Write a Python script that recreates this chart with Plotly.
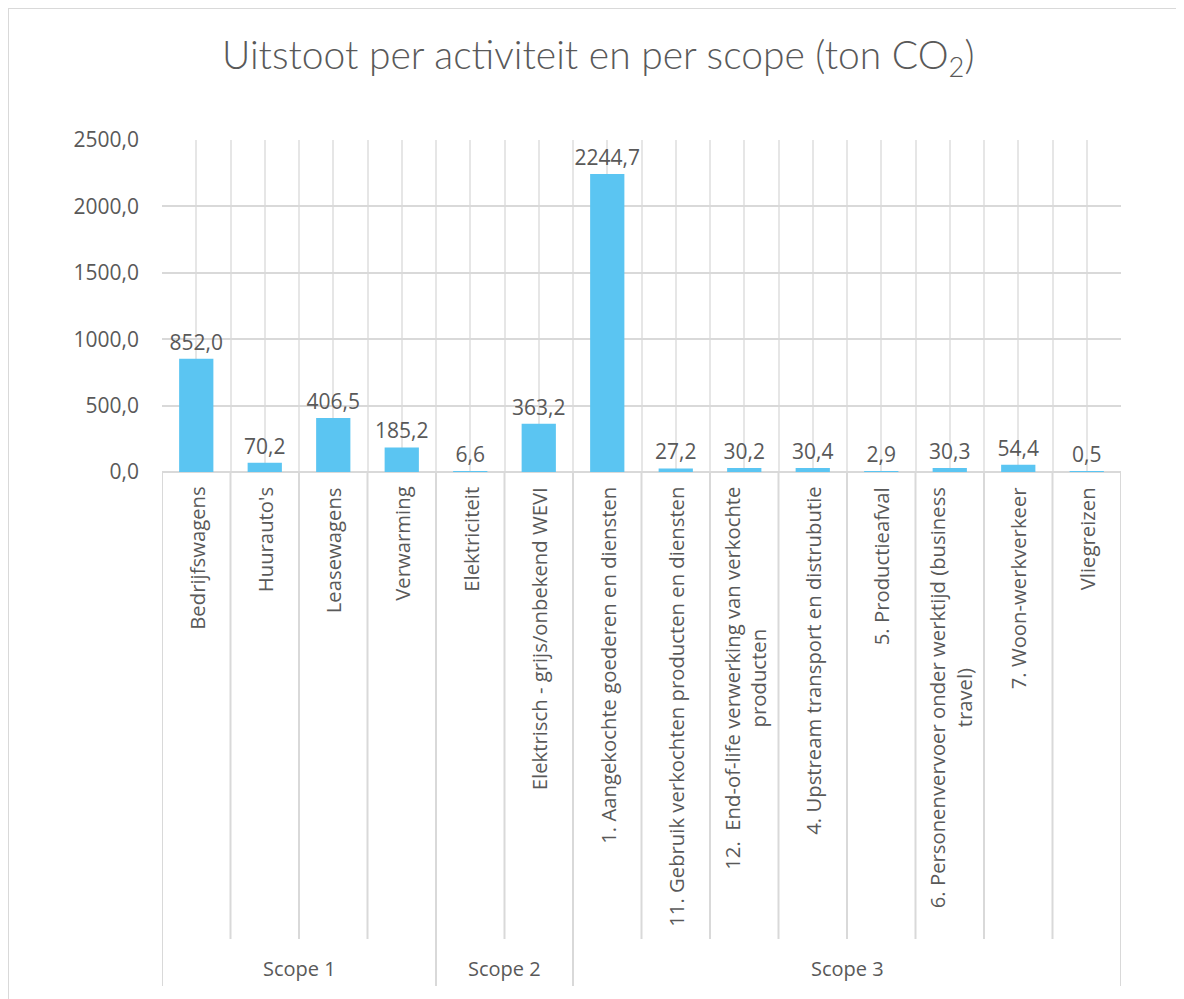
import plotly.graph_objects as go

categories = ["Bedrijfswagens", "Huurauto's", "Leasewagens", "Verwarming",
              "Elektriciteit", "Elektrisch - grijs/onbekend WEVI",
              "1. Aangekochte goederen en diensten",
              "11. Gebruik verkochten producten en diensten",
              "12.\u00a0 End-of-life verwerking van verkochte<br>producten",
              "4. Upstream transport en distrubutie",
              "5. Productieafval",
              "6. Personenvervoer onder werktijd (business<br>travel)",
              "7. Woon-werkverkeer",
              "Vliegreizen"]
scopes = ["Scope 1"] * 4 + ["Scope 2"] * 2 + ["Scope 3"] * 8
values = [852.0, 70.2, 406.5, 185.2, 6.6, 363.2, 2244.7, 27.2, 30.2, 30.4, 2.9, 30.3, 54.4, 0.5]
yticks = [0, 500, 1000, 1500, 2000, 2500]

W, H = 1184, 999
OFF = 8  # page offset of the figure in the screenshot
L, T = 162 - OFF, 140 - OFF
pw, ph = 959, 332
R, B = W - L - pw, H - T - ph

TXT = "#595959"
GRID = "#d9d9d9"
FONT = "Open Sans"

n = len(categories)
xs = list(range(n))

fig = go.Figure()
fig.add_trace(go.Bar(
    x=xs, y=values, width=0.5,
    marker=dict(color="#5BC5F2", line=dict(width=0)),
    texttemplate="%{y:.1f}", textposition="outside", constraintext="none",
    textfont=dict(family=FONT, size=21, color=TXT),
    cliponaxis=False, hoverinfo="skip",
))

# screenshot pixel -> paper coordinate
def py(pix):
    return (T + ph - (pix - OFF)) / ph

def px(pix):
    return ((pix - OFF) - L) / pw

shapes = []
annotations = []
# category labels
for i, c in enumerate(categories):
    annotations.append(dict(
        x=i, xref="x", y=0, yref="y", yshift=-13,
        text=c, textangle=-90, showarrow=False,
        xanchor="center", yanchor="top", align="center",
        font=dict(family=FONT, size=20.3, color=TXT)))

# dividers
bounds = [i - 0.5 for i in range(n + 1)]
scope_bounds = set()
for i in range(n + 1):
    if i == 0 or i == n or scopes[i] != scopes[i - 1]:
        scope_bounds.add(i)
for i, b in enumerate(bounds):
    y1 = py(986) if i in scope_bounds else py(939)
    shapes.append(dict(type="line", xref="x", yref="paper", x0=b, x1=b,
                       y0=0, y1=y1, line=dict(color=GRID, width=2), layer="below"))

# scope labels
groups = []
for i, s in enumerate(scopes):
    if not groups or groups[-1][0] != s:
        groups.append([s, i, i])
    else:
        groups[-1][2] = i
for s, a, b in groups:
    annotations.append(dict(
        x=(a + b) / 2, xref="x", y=py(968), yref="paper",
        text=s, showarrow=False, xanchor="center", yanchor="middle",
        font=dict(family=FONT, size=20, color=TXT)))

# title
annotations.append(dict(
    x=px(598), xref="paper", y=py(57), yref="paper",
    xanchor="center", yanchor="middle", showarrow=False,
    text="Uitstoot per activiteit en per scope (ton CO<sub>2</sub>)",
    font=dict(family="Lato", size=39, color=TXT, weight=300)))

# chart border (left and top)
shapes.append(dict(type="line", xref="paper", yref="paper",
                   x0=px(OFF), x1=px(OFF), y0=py(OFF), y1=py(1010),
                   line=dict(color="#d9d9d9", width=2)))
shapes.append(dict(type="line", xref="paper", yref="paper",
                   x0=px(OFF), x1=px(1200), y0=py(OFF), y1=py(OFF),
                   line=dict(color="#d9d9d9", width=2)))

fig.update_layout(
    width=W, height=H,
    margin=dict(l=L, r=R, t=T, b=B),
    paper_bgcolor="white", plot_bgcolor="white",
    separators=",.",
    showlegend=False,
    shapes=shapes, annotations=annotations,
    xaxis=dict(range=[-0.5, n - 0.5], tickmode="array",
               tickvals=[i / 2 - 0.5 for i in range(2 * n + 1)],
               showticklabels=False, ticks="", showgrid=True,
               gridcolor="#e6e6e6", gridwidth=2, zeroline=False,
               showline=False),
    yaxis=dict(range=[0, 2500], tickvals=yticks, tickformat=".1f",
               showgrid=True, gridcolor=GRID, gridwidth=2,
               zeroline=True, zerolinecolor=GRID, zerolinewidth=2,
               showline=False, ticks="", ticklabelstandoff=22,
               tickfont=dict(family=FONT, size=21, color=TXT)),
    font=dict(family=FONT, color=TXT),
)

fig.write_html("out.html")
